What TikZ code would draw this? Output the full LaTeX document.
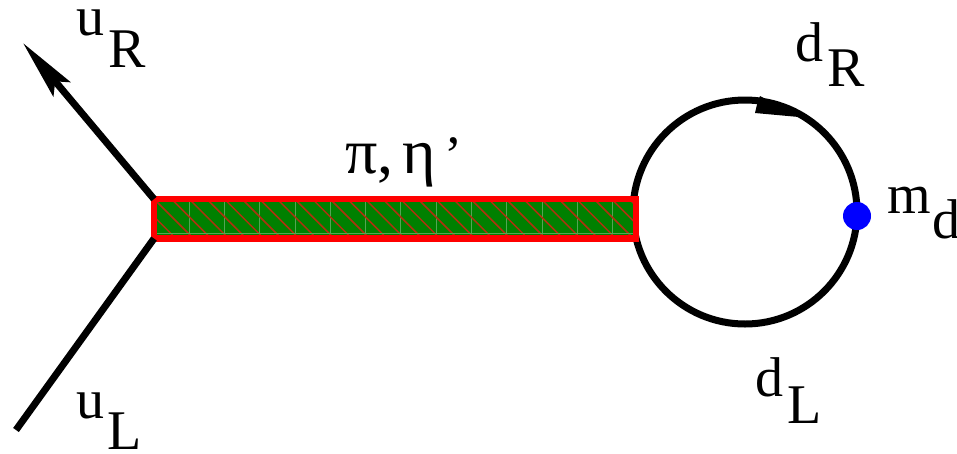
\documentclass[tikz,border=0pt]{standalone}
\usepackage{fontspec}
\setmainfont{Liberation Serif}
\usetikzlibrary{arrows.meta,calc}
\definecolor{barred}{RGB}{255,0,0}
\definecolor{bargreen}{RGB}{0,128,0}
\definecolor{hatchred}{RGB}{175,50,15}
\definecolor{seam}{RGB}{85,165,85}
\definecolor{dotblue}{RGB}{0,0,255}
\tikzset{
  fermion/.style={draw=black,line width=7pt},
  lab/.style={anchor=base west,inner sep=0pt,outer sep=0pt,font=\fontsize{56}{56}\selectfont},
}
\begin{document}
\begin{tikzpicture}[x=1pt,y=-1pt]
\useasboundingbox (0,0) rectangle (957,453);
% loop
\node[circle,fermion,minimum size=224pt,inner sep=0pt,outer sep=0pt] (loop) at (745,212) {};
% meson bar
\node[rectangle,inner sep=0pt,outer sep=0pt,minimum width=482pt,minimum height=39.5pt,fill=bargreen] (bar) at (395,218.8) {};
\begin{scope}
\clip (bar.south west) rectangle (bar.north east);
\foreach \i in {0,...,13}{
  \draw[seam,line width=0.8pt] ($(bar.north west)+(35+35.3*\i,0)$) -- ++(0,40);
}
\foreach \i in {-2,...,28}{
  \draw[hatchred,line width=1.5pt] ($(bar.north west)+(17.6*\i,0)$) -- ++(40,40);
}
\draw[seam,line width=0.8pt] ($(bar.south west)+(0,-5)$) -- ($(bar.south east)+(0,-5)$);
\end{scope}
\draw[barred,line width=6.5pt] (bar.south west) rectangle (bar.north east);
% legs
\coordinate (uRend) at (23,43);
\coordinate (uLend) at (16,430);
\draw[fermion,-{Stealth[length=60pt,width=22pt,inset=10pt]}] (bar.north west) -- (uRend);
\draw[fermion] (bar.south west) -- (uLend);
% arrow on the loop
\coordinate (arrA) at (757,104.5);
\coordinate (arrB) at (799,117);
\path[fill=black] (760,96) -- (arrB) -- (755,113) -- (arrA) -- cycle;
% mass insertion
\node[circle,fill=dotblue,minimum size=28pt,inner sep=0pt,outer sep=0pt] (mass) at (857,216) {};
% labels
\node[lab] (uR) at (76,35) {u\hspace{4pt}\raisebox{-32pt}{R}};
\node[lab] (uL) at (76,418) {u\hspace{3pt}\raisebox{-31pt}{L}};
\node[lab] (dR) at (795,61) {d\hspace{4pt}\raisebox{-25pt}{R}};
\node[lab] (dL) at (755,396) {d\hspace{4pt}\raisebox{-27pt}{L}};
\node[lab] (md) at (887,213) {m\hspace{2pt}\raisebox{-25pt}{d}};
\node[lab,font=\fontsize{64}{64}\selectfont] (pi) at (345,173) {π,\hspace{-7pt} η\hspace{9pt}{\fontsize{54}{54}\selectfont ’}};
\end{tikzpicture}
\end{document}
